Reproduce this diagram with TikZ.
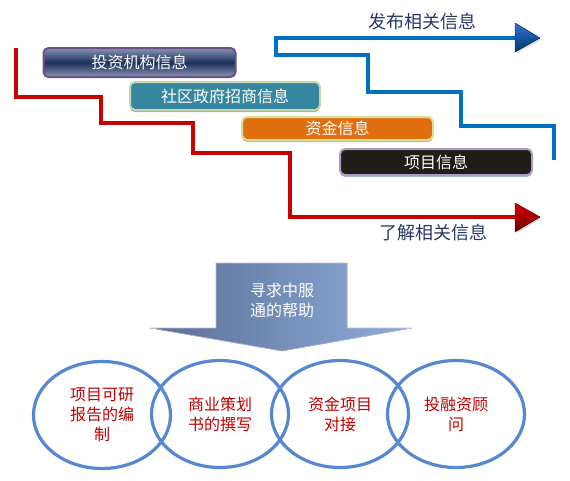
\documentclass[tikz,border=0pt]{standalone}
\usepackage{fontspec}
\setmainfont{Noto Sans CJK SC}
\usepackage{tikz}
\usetikzlibrary{shapes.geometric}
\usetikzlibrary{shadows}

\definecolor{lineRed}{RGB}{200,0,0}
\definecolor{lineBlue}{RGB}{0,112,192}
\definecolor{labelNavy}{RGB}{40,55,100}
\definecolor{navyDark}{RGB}{28,47,90}
\definecolor{navyLight}{RGB}{135,150,180}
\definecolor{purpleEdge}{RGB}{105,80,135}
\definecolor{tealFill}{RGB}{55,135,160}
\definecolor{oliveEdge}{RGB}{200,215,170}
\definecolor{orangeFill}{RGB}{225,110,15}
\definecolor{yellowEdge}{RGB}{215,225,150}
\definecolor{pinkShadow}{RGB}{205,165,165}
\definecolor{blackFill}{RGB}{32,28,24}
\definecolor{lavenderEdge}{RGB}{170,155,195}
\definecolor{skyShadow}{RGB}{165,195,215}
\definecolor{arrowDark}{RGB}{90,110,148}
\definecolor{arrowLight}{RGB}{142,174,220}
\definecolor{circleBlue}{RGB}{85,135,210}
\definecolor{textRed}{RGB}{192,0,0}

\begin{document}
\begin{tikzpicture}[x=1pt, y=-1pt,
  infobox/.style={rectangle, rounded corners=5pt, line width=2pt, minimum width=192pt, inner sep=0pt, text=white, font=\fontsize{16}{18}\selectfont},
  helpring/.style={ellipse, draw=circleBlue, line width=3.2pt, minimum width=137pt, minimum height=107pt, inner sep=0pt, align=center, text=textRed, font=\fontsize{16}{20}\selectfont},
  steplabel/.style={text=labelNavy, font=\fontsize{18}{20}\selectfont},
  stepline/.style={line width=3.6pt}]
\useasboundingbox (0,0) rectangle (570,480);
% Red steps
\coordinate (redstart) at (16,48);
\coordinate (redtip) at (515,217);
\draw[stepline, draw=lineRed] (redstart) -- ++(0,49) -- ++(85,0) -- ++(0,26) -- ++(92,0) -- ++(0,30) -- ++(97,0) -- ++(0,64) -- (redtip);
\filldraw[top color=red!85!black, bottom color=red!45!black, draw=red!40!black, drop shadow={shadow xshift=1.5pt, shadow yshift=-1.5pt, fill=black!25}] (redtip) ++(0,-14) -- ++(25,14) -- ++(-25,15) -- cycle;
% Blue steps
\coordinate (bluestart) at (554,160);
\coordinate (bluetip) at (515,38);
\draw[stepline, draw=lineBlue] (bluestart) -- ++(0,-34) -- ++(-93,0) -- ++(0,-34) -- ++(-93,0) -- ++(0,-37) -- ++(-92,0) -- ++(0,-17) -- (bluetip);
\filldraw[top color=blue!30!lineBlue!80, bottom color=lineBlue!50!black, draw=lineBlue!40!black, drop shadow={shadow xshift=1.5pt, shadow yshift=-1.5pt, fill=black!25}] (bluetip) ++(0,-15) -- ++(25,15) -- ++(-25,14) -- cycle;
% Labels
\node[steplabel] (publish) at (422,22) {发布相关信息};
\node[steplabel] (learn) at (433,233) {了解相关信息};
% Boxes
\node[infobox, minimum height=29pt, draw=purpleEdge, top color=navyLight, bottom color=navyLight, middle color=navyDark] (investor) at (139.5,62.5) {投资机构信息};
\node[infobox, minimum height=28pt, minimum width=190pt, draw=oliveEdge, fill=tealFill, drop shadow={shadow xshift=0pt, shadow yshift=-2pt, fill=oliveEdge!80!black, opacity=1}] (community) at (225,96) {社区政府招商信息};
\node[infobox, minimum height=23pt, minimum width=191pt, draw=yellowEdge, fill=orangeFill, drop shadow={shadow xshift=0pt, shadow yshift=-2pt, fill=pinkShadow, opacity=1}] (funds) at (337.5,128.5) {资金信息};
\node[infobox, minimum height=26pt, draw=lavenderEdge, fill=blackFill, drop shadow={shadow xshift=0pt, shadow yshift=-2pt, fill=skyShadow, opacity=1}] (project) at (436,162) {项目信息};
% Big arrow
\filldraw[left color=arrowDark, right color=arrowLight, draw=lavenderEdge!70, line width=0.6pt] (216,263) -- (347,263) -- (347,328) -- (412,328) -- (282,351) -- (150,328) -- (216,328) -- cycle;
\node[align=center, text=white, font=\fontsize{16}{20}\selectfont] (help) at (282,300) {寻求中服\\通的帮助};
% Rings
\node[helpring] (report) at (102,415) {项目可研\\报告的编\\制};
\node[helpring] (plan) at (220,414) {商业策划\\书的撰写};
\node[helpring] (match) at (340,414) {资金项目\\对接};
\node[helpring] (advice) at (456,414) {投融资顾\\问};
\end{tikzpicture}
\end{document}
